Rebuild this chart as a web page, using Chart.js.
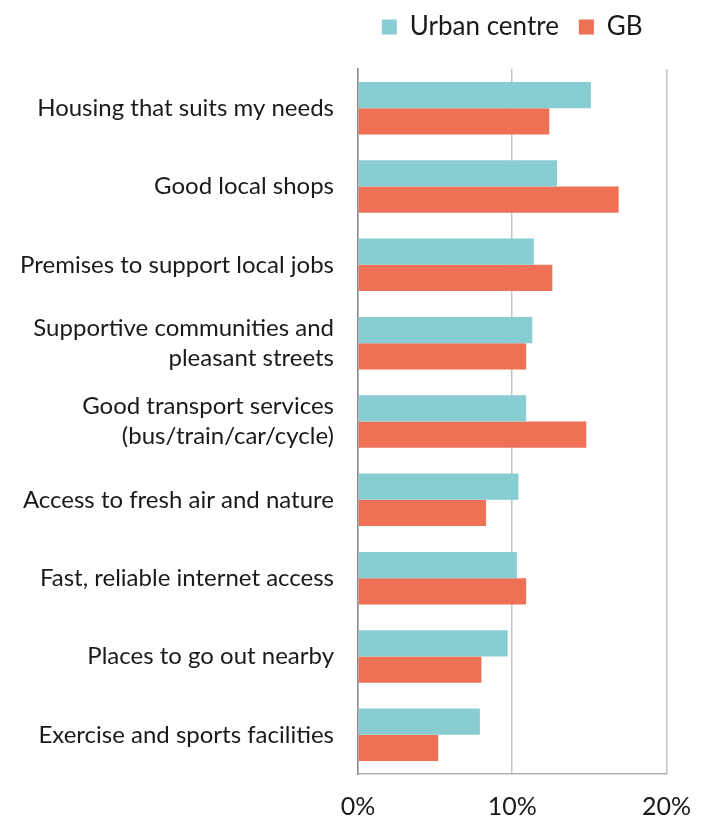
<!DOCTYPE html>
<html>
<head>
<meta charset="utf-8">
<script src="https://cdn.jsdelivr.net/npm/chart.js@4.4.0/dist/chart.umd.min.js"></script>
<style>
  html, body { margin: 0; padding: 0; background: #fff; }
  #wrap { width: 709px; height: 823px; position: relative; }
</style>
</head>
<body>
<div id="wrap"><canvas id="chart"></canvas></div>
<script>
// categories (top to bottom)
const categories = [
    'Housing that suits my needs',
    'Good local shops',
    'Premises to support local jobs',
    ['Supportive communities and', 'pleasant streets'],
    ['Good transport services', '(bus/train/car/cycle)'],
    'Access to fresh air and nature',
    'Fast, reliable internet access',
    'Places to go out nearby',
    'Exercise and sports facilities'
];

// percentages
const urbanCentre = [15.1, 12.9, 11.4, 11.3, 10.9, 10.4, 10.3, 9.7, 7.9];
const gb = [12.4, 16.9, 12.6, 10.9, 14.8, 8.3, 10.9, 8.0, 5.2];

// x axis ticks
const xTicks = [0, 10, 20];

const FONT = 'Lato, "Open Sans", sans-serif';

// move the legend up a little (padding is big for the gap between the items)
const legendNudge = {
    id: 'legendNudge',
    afterLayout(chart) {
        chart.legend.top -= 6;
        chart.legend.bottom -= 6;
    }
};

const ctx = document.getElementById('chart').getContext('2d');
new Chart(ctx, {
    type: 'bar',
    data: {
        labels: categories,
        datasets: [
            { label: 'Urban centre', data: urbanCentre, backgroundColor: '#87cdd1', xAxisID: 'x', yAxisID: 'y' },
            { label: 'GB', data: gb, backgroundColor: '#ee7155', xAxisID: 'x', yAxisID: 'y' }
        ]
    },
    plugins: [legendNudge],
    options: {
        indexAxis: 'y',
        responsive: true,
        maintainAspectRatio: false,
        animation: false,
        layout: { padding: { left: 0, right: 39, top: 0, bottom: 0 } },
        datasets: {
            bar: { categoryPercentage: 0.67, barPercentage: 1.0 }
        },
        scales: {
            x: {
                min: 0,
                max: 20,
                afterBuildTicks: (scale) => { scale.ticks = xTicks.map(v => ({ value: v })); },
                afterFit: (scale) => { scale.height = 49; },
                grid: { display: true, color: '#c4c4c4', lineWidth: 1.5, drawTicks: false },
                border: { display: true, color: '#b0b0b0', width: 1.5 },
                ticks: {
                    padding: 18,
                    color: '#1a1a1a',
                    font: { family: FONT, size: 25 },
                    callback: (v) => v + '%'
                }
            },
            // empty strip between legend and plot
            gap: {
                type: 'linear',
                position: 'top',
                display: true,
                afterFit: (scale) => { scale.height = 13; },
                grid: { display: false, drawTicks: false },
                border: { display: false },
                ticks: { display: false }
            },
            y: {
                afterFit: (scale) => { scale.width = 358; },
                grid: { display: false, drawTicks: false },
                border: { display: true, color: '#8c8c8c', width: 1.5 },
                ticks: {
                    padding: 24,
                    color: '#1a1a1a',
                    font: { family: FONT, size: 24, lineHeight: 1.25 }
                }
            }
        },
        plugins: {
            legend: {
                position: 'top',
                align: 'center',
                fullSize: false,
                labels: {
                    boxWidth: 15,
                    boxHeight: 15,
                    padding: 20,
                    color: '#1a1a1a',
                    font: { family: FONT, size: 26 }
                }
            },
            tooltip: { enabled: false }
        }
    }
});
</script>
</body>
</html>
